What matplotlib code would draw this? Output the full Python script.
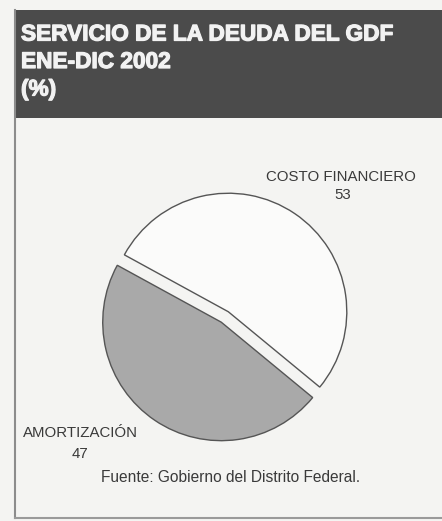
import matplotlib.pyplot as plt
import matplotlib.patheffects as pe
from matplotlib.patches import Rectangle

# datos
categorias = ['COSTO FINANCIERO', 'AMORTIZACIÓN']
valores = [53, 47]
titulo = ['SERVICIO DE LA DEUDA DEL GDF', 'ENE-DIC 2002', '(%)']
fuente = 'Fuente: Gobierno del Distrito Federal.'

W, H = 442, 521
plt.rcParams['font.family'] = ['Liberation Sans', 'DejaVu Sans']

fig = plt.figure(figsize=(W / 100, H / 100), dpi=100, facecolor='#f4f4f2')
ax = fig.add_axes([0, 0, 1, 1])


def py(y):
    # pixel desde arriba -> coordenada de datos
    return H - y


# pastel (explode en unidades de datos = pixeles)
wedges, _ = ax.pie(valores, colors=['#fbfbfa', '#a9a9a9'], startangle=-39.5,
                   counterclock=True, explode=[6.6, 6.0], radius=118.5,
                   center=(224.6, py(317.2)),
                   wedgeprops=dict(edgecolor='#555555', linewidth=1.0))

ax.set_xlim(0, W)
ax.set_ylim(0, H)
ax.set_aspect('equal')
ax.axis('off')

# encabezado
ax.add_patch(Rectangle((14, py(118)), W - 14, 108, facecolor='#4b4b4b',
                       edgecolor='none', zorder=0))
for i, t in enumerate(titulo):
    ax.text(21, py(34 + i * 27.5), t, color='#f2f2f2', fontsize=16.3,
            fontweight='bold', va='center', ha='left',
            path_effects=[pe.withStroke(linewidth=0.9, foreground='#f2f2f2')])

# marco
ax.plot([14.5, 14.5], [py(10), py(518)], color='#8c8c8c', lw=1.5)
ax.plot([14.5, W], [py(518), py(518)], color='#9a9a9a', lw=1.5)

# etiquetas
txt = '#3a3a3a'
fs = 10.8
ax.text(341, py(177), categorias[0], fontsize=fs, color=txt, ha='center', va='center')
ax.text(343, py(195), str(valores[0]), fontsize=fs, color=txt, ha='center', va='center')
ax.text(80, py(433), categorias[1], fontsize=fs, color=txt, ha='center', va='center')
ax.text(80, py(454), str(valores[1]), fontsize=fs, color=txt, ha='center', va='center')
ax.text(231, py(477), fuente, fontsize=11.2, color=txt, ha='center', va='center')

fig.savefig('out.png', dpi=100, facecolor=fig.get_facecolor())
